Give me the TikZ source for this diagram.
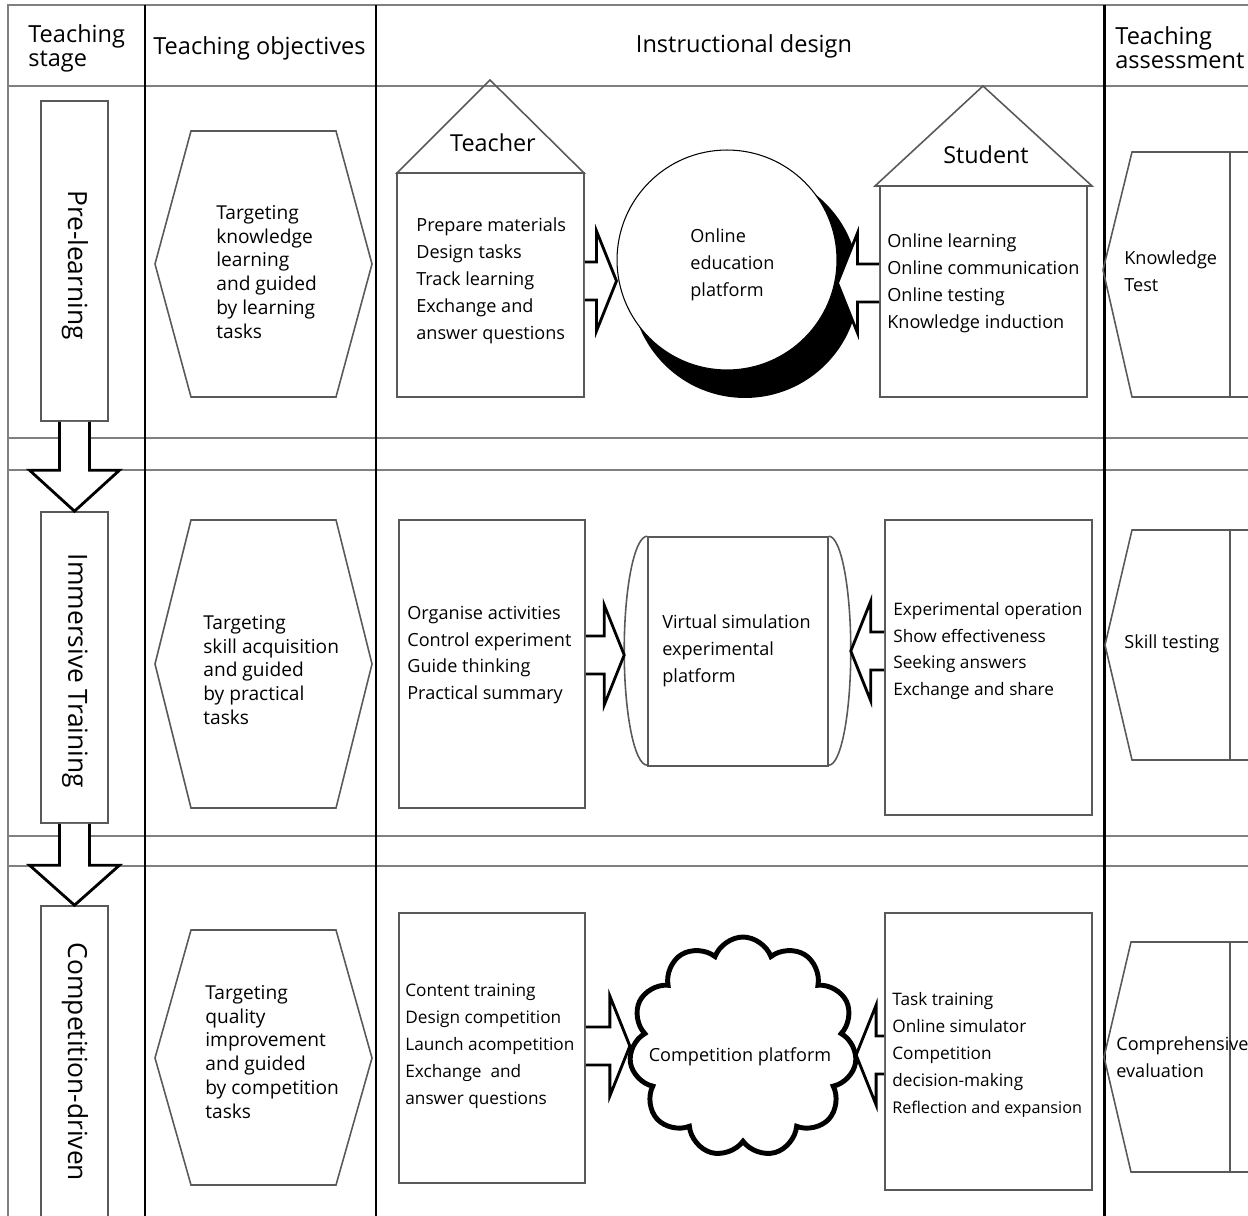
\documentclass[tikz,border=0pt]{standalone}
\usepackage{fontspec}
\setmainfont{Open Sans}
\usetikzlibrary{calc,fit,shapes.symbols}
\definecolor{gridgray}{gray}{0.5}
\definecolor{boxgray}{gray}{0.35}
\tikzset{
  gridline/.style={draw=gridgray,line width=1.1pt},
  colline/.style={draw=black,line width=1.7pt},
  box/.style={draw=boxgray,line width=0.9pt,inner sep=0pt},
  hollow/.style={draw=black,fill=white,line width=1.6pt,line join=miter},
  headtext/.style={inner sep=0pt,align=left,font=\fontsize{13.4}{13.6}\selectfont},
  stagetext/.style={inner sep=0pt,rotate=-90,font=\fontsize{15}{18}\selectfont},
  roletext/.style={inner sep=0pt,font=\fontsize{13.3}{16}\selectfont},
  goaltext/.style={inner sep=0pt,anchor=west,align=left,font=\fontsize{10.9}{13.6}\selectfont},
  listtext/.style={inner sep=0pt,anchor=west,align=left,font=\fontsize{10.3}{15.3}\selectfont},
  narrowtext/.style={listtext,font=\fontsize{9.8}{15.3}\selectfont}
}
\newcommand{\sidearrow}[4]{%
  \draw[hollow] ($(#1|-#3)+(0,-19)$) -- ($(#2|-#3)+(#4,-19)$) -- ($(#2|-#3)+(#4,-50)$)
    -- (#2|-#3) -- ($(#2|-#3)+(#4,50)$) -- ($(#2|-#3)+(#4,19)$) -- ($(#1|-#3)+(0,19)$);}
\newcommand{\downarrowbox}[3]{%
  \draw[hollow] ($(#1)+(-15,0)$) -- ($(#2)+(-15,-#3)$) -- ($(#2)+(-45,-#3)$) -- (#2)
    -- ($(#2)+(45,-#3)$) -- ($(#2)+(15,-#3)$) -- ($(#1)+(15,0)$);}
\begin{document}
\begin{tikzpicture}[x=0.02cm,y=-0.02cm]
\useasboundingbox (0,0) rectangle (1248,1216);
\clip (0,0) rectangle (1248,1216);

\draw[gridline] (8,1216) -- (8,5) -- (1248,5);
\foreach \y in {86,438,470,836,866}
  \draw[gridline] (8,\y) -- (1248,\y);
\foreach \x in {145,376,1104}
  \draw[colline] (\x,5) -- (\x,1216);

\node[headtext,anchor=west] (hstage) at (28,48) {Teaching\\stage};
\node[headtext,anchor=west] (hgoal) at (153,48) {Teaching objectives};
\node[headtext] (hdesign) at (744,46) {Instructional design};
\node[headtext,anchor=west] (hassess) at (1115,48) {Teaching\\assessment};

\node[box,fit={(41,101) (108,421)}] (st1) {};
\node[box,fit={(41,512) (108,823)}] (st2) {};
\node[box,fit={(41,906) (108,1240)}] (st3) {};
\downarrowbox{st1.south}{st2.north}{41}
\downarrowbox{st2.south}{st3.north}{40}
\node[stagetext] (st1txt) at (75,265) {Pre-learning};
\node[stagetext] (st2txt) at (75,671) {Immersive Training};
\node[stagetext] (st3txt) at (75,1062) {Competition-driven};

\draw[box] (191,131) -- (336,131) -- (372,264) -- (336,397) -- (191,397) -- (155,264) -- cycle;
\draw[box] (191,520) -- (336,520) -- (372,664) -- (336,808) -- (191,808) -- (155,664) -- cycle;
\draw[box] (191,930) -- (336,930) -- (372,1058) -- (336,1185) -- (191,1185) -- (155,1058) -- cycle;
\node[goaltext] (g1) at (216,272) {Targeting\\knowledge\\learning\\and guided\\by learning\\tasks};
\node[goaltext] (g2) at (203,670) {Targeting\\skill acquisition\\and guided\\by practical\\tasks};
\node[goaltext] (g3) at (205,1052) {Targeting\\quality\\improvement\\and guided\\by competition\\tasks};

\draw[box] (397,173) -- (490,80) -- (584,173) -- cycle;
\node[box,fit={(397,173) (584,397)}] (t1) {};
\draw[box] (875,186) -- (983,86) -- (1092,186) -- cycle;
\node[box,fit={(880,186) (1087,397)}] (s1) {};
\node[roletext] (teacher) at (493,143) {Teacher};
\node[roletext] (student) at (986,155) {Student};

\node[box,fit={(399,520) (585,808)}] (t2) {};
\node[box,fit={(885,520) (1092,815)}] (s2) {};
\node[box,fit={(399,913) (585,1183)}] (t3) {};
\node[box,fit={(885,913) (1092,1190)}] (s3) {};

\fill[black] (745,284) circle[radius=2.28cm];
\node[circle,draw,line width=0.6pt,fill=white,minimum size=4.4cm,inner sep=0pt] (p1) at (727,260) {};

\node[box,fit={(648,537) (828,766)}] (p2) {};
\draw[box] (p2.north west) arc[start angle=90,end angle=270,x radius=0.46cm,y radius=2.29cm];
\draw[box] (p2.north east) arc[start angle=90,end angle=-90,x radius=0.44cm,y radius=2.29cm];
\coordinate (p2l) at ($(p2.west)+(-23,0)$);
\coordinate (p2r) at ($(p2.east)+(22,0)$);

\node[listtext] (t1txt) at (416,281) {Prepare materials\\Design tasks\\Track learning\\Exchange and\\answer questions};
\node[listtext] (s1txt) at (887,283) {Online learning\\Online communication\\Online testing\\Knowledge induction};
\node[listtext] (t2txt) at (407,655) {Organise activities\\Control experiment\\Guide thinking\\Practical summary};
\node[narrowtext] (s2txt) at (893,651) {Experimental operation\\Show effectiveness\\Seeking answers\\Exchange and share};
\node[narrowtext] (t3txt) at (405,1046) {Content training\\Design competition\\Launch acompetition\\Exchange \ and\\answer questions};
\node[narrowtext] (s3txt) at (892,1055) {Task training\\Online simulator\\Competition\\decision-making\\{\fontsize{9.2}{15.3}\selectfont Reflection and expansion}};

\sidearrow{t1.east}{p1.west}{t1txt}{-20}
\sidearrow{s1.west}{p1.east}{s1txt}{20}
\sidearrow{t2.east}{p2l}{t2txt}{-20}
\sidearrow{s2.west}{p2r}{s2txt}{20}

\node[cloud,cloud puffs=11,cloud puff arc=140,draw,line width=2.8pt,minimum width=4.55cm,minimum height=4.4cm,inner sep=0pt] (p3) at (743,1047) {};
\sidearrow{t3.east}{p3.west}{t3txt}{-20}
\sidearrow{s3.west}{p3.east}{s3txt}{20}

\node[listtext] (p1txt) at (690,265) {Online\\education\\platform};
\node[listtext] (p2txt) at (662,651) {Virtual simulation\\experimental\\platform};
\node[listtext,anchor=center] (p3txt) at (740,1057) {Competition platform};

\draw[box] (1260,152) -- (1132,152) -- (1103,270) -- (1132,397) -- (1260,397);
\draw[box] (1230,152) -- (1230,397);
\draw[box] (1260,530) -- (1132,530) -- (1105,645) -- (1132,760) -- (1260,760);
\draw[box] (1230,530) -- (1230,760);
\draw[box] (1260,942) -- (1131,942) -- (1104,1057) -- (1131,1172) -- (1260,1172);
\draw[box] (1230,942) -- (1230,1172);
\node[listtext] (a1txt) at (1124,271) {Knowledge\\Test};
\node[listtext] (a2txt) at (1124,644) {Skill testing};
\node[listtext] (a3txt) at (1116,1057) {Comprehensive\\evaluation};
\end{tikzpicture}
\end{document}
